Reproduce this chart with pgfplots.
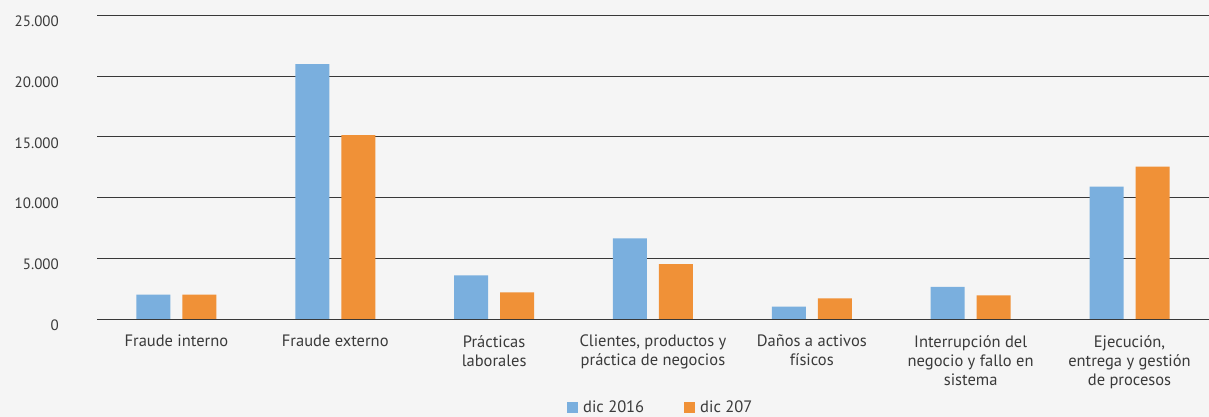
\documentclass[border=0pt]{standalone}
\usepackage{pgfplots}
\pgfplotsset{compat=1.18}
\usepackage{fontspec}
\setmainfont{PT Sans}
\definecolor{bg}{HTML}{F5F5F5}
\definecolor{cblue}{HTML}{7AAFDE}
\definecolor{corange}{HTML}{F09137}
\definecolor{txt}{HTML}{3A3A3A}
\begin{document}
\begin{tikzpicture}
\path[use as bounding box, fill=bg] (0,0) rectangle (1209pt,417pt);
\begin{axis}[
  at={(97pt,98pt)}, anchor=south west,
  scale only axis, width=1112pt, height=303.5pt,
  ybar=12pt, bar width=34pt,
  xmin=-0.5, xmax=6.5, ymin=0, ymax=25000,
  ytick={0,5000,10000,15000,20000,25000},
  xtick=data,
  xticklabels={Fraude interno, Fraude externo, {Prácticas\\laborales}, {Clientes, productos y\\práctica de negocios}, {Daños a activos\\físicos}, {Interrupción del\\negocio y fallo en\\sistema}, {Ejecución,\\entrega y gestión\\de procesos}},
  axis line style={draw=none},
  major tick length=0pt,
  ymajorgrids,
  grid style={draw=black!78, line width=0.9pt},
  scaled y ticks=false,
  /pgf/number format/.cd, 1000 sep={.}, assume math mode=true,
  /pgfplots/.cd,
  yticklabel style={anchor=north east, inner sep=0pt, xshift=-38pt, yshift=-0.5pt, font=\fontsize{15}{19}\selectfont, text=txt},
  xticklabel style={anchor=north, align=center, inner sep=0pt, yshift=-16pt, font=\fontsize{16.5}{19}\selectfont, text=txt},
  legend style={at={(0.507,-0.291)}, anchor=center, draw=none, fill=none, legend columns=2, font=\fontsize{16.5}{19}\selectfont, text=txt,
    /tikz/every even column/.append style={column sep=38pt},
    /tikz/every odd column/.append style={column sep=3pt}},
  legend image code/.code={\fill[#1] (0pt,-5.5pt) rectangle (11pt,5.5pt);},
]
\addplot[fill=cblue, draw=none] coordinates {(0,2000) (1,21000) (2,3600) (3,6650) (4,1020) (5,2650) (6,10900)};
\addplot[fill=corange, draw=none] coordinates {(0,2000) (1,15150) (2,2200) (3,4520) (4,1700) (5,1950) (6,12550)};
\legend{dic 2016, dic 207}
\end{axis}
\end{tikzpicture}
\end{document}
